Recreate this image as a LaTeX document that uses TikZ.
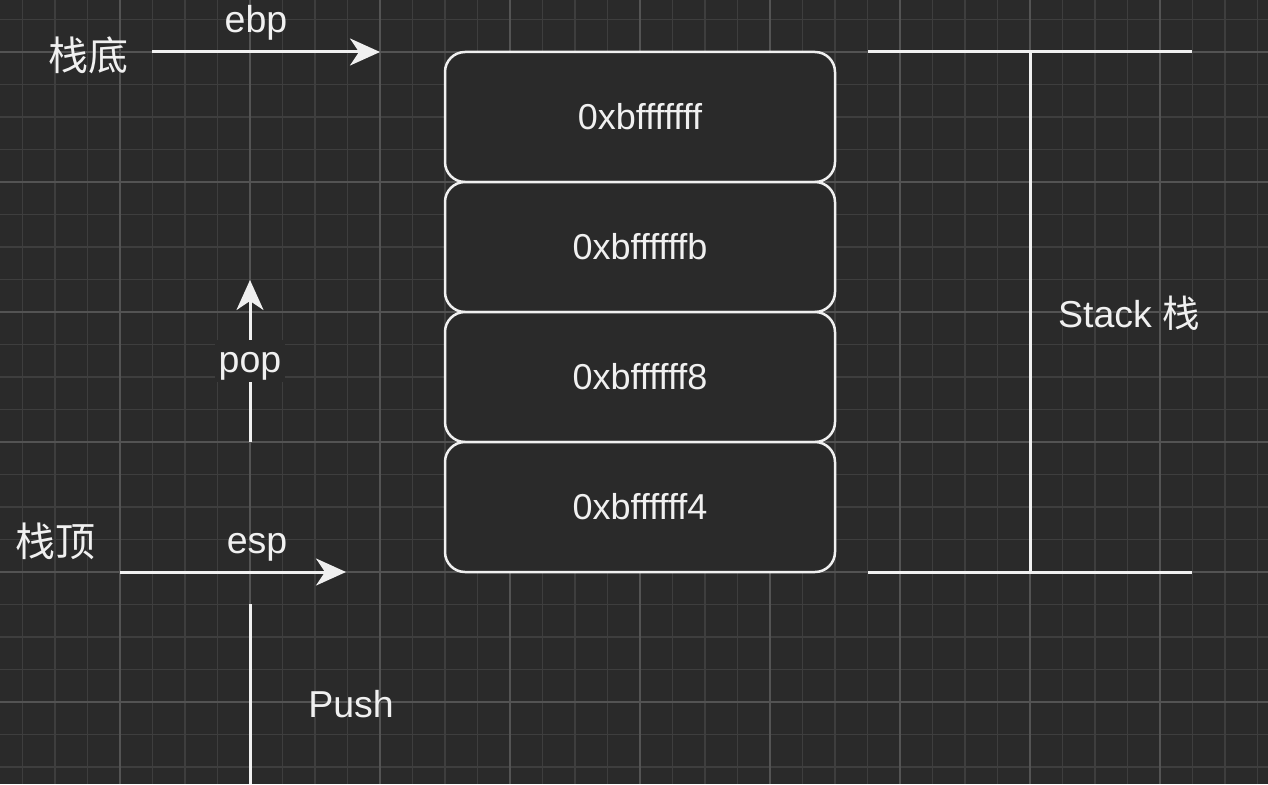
\documentclass[tikz,border=0pt]{standalone}
\usepackage{fontspec}
\setmainfont{Liberation Sans}
\newfontfamily\cjk{Noto Sans CJK SC}
\usetikzlibrary{arrows.meta}
\definecolor{bg}{HTML}{2A2A2A}
\definecolor{gridminor}{HTML}{3E3E3E}
\definecolor{gridmajor}{HTML}{535353}
\definecolor{ink}{HTML}{F0F0F0}
\tikzset{
  lbl/.style={text=ink, font=\fontsize{37.5}{40}\selectfont, inner sep=0pt},
  cjklbl/.style={text=ink, font=\fontsize{40}{42}\selectfont\cjk, inner sep=0pt},
  cell/.style={draw=ink, line width=2.5pt, fill=bg, rounded corners=20pt,
    minimum width=390pt, minimum height=130pt, inner sep=0pt, text=ink,
    font=\fontsize{36}{40}\selectfont},
  arr/.style={draw=ink, line width=3pt, -{Stealth[length=30pt,width=27pt,inset=9pt]}},
  plain/.style={draw=ink, line width=3pt},
}
\begin{document}
\begin{tikzpicture}[x=1pt,y=-1pt]
\useasboundingbox (0,0) rectangle (1268,784);
\fill[bg] (0,0) rectangle (1268,784);
% grid
\foreach \i in {0,...,39} {
  \pgfmathsetmacro\gx{22.5+32.5*\i}
  \draw[gridminor, line width=1.5pt] (\gx,0) -- (\gx,784);
}
\foreach \i in {0,...,24} {
  \pgfmathsetmacro\gy{19.5+32.5*\i}
  \draw[gridminor, line width=1.5pt] (0,\gy) -- (1268,\gy);
}
\foreach \gx in {120,250,...,1160} {
  \draw[gridmajor, line width=1.5pt] (\gx,0) -- (\gx,784);
}
\foreach \gy in {52,182,...,702} {
  \draw[gridmajor, line width=1.5pt] (0,\gy) -- (1268,\gy);
}
% stack cells
\node[cell] (b1) at (640,117) {0xbfffffff};
\node[cell] (b2) at (640,247) {0xbffffffb};
\node[cell] (b3) at (640,377) {0xbffffff8};
\node[cell] (b4) at (640,507) {0xbffffff4};
% bracket
\coordinate (tl) at (868,52);
\coordinate (tr) at (1192,52);
\coordinate (tm) at (1030,52);
\coordinate (bl) at (868,572);
\coordinate (br) at (1192,572);
\coordinate (bm) at (1030,572);
\draw[plain] (tl) -- (tr);
\draw[plain] (bl) -- (br);
\draw[plain] (tm) -- (bm);
\node[lbl, anchor=base] (stack) at (1129,327) {Stack {\cjk 栈}};
% ebp
\node[cjklbl] (bottom) at (88,55) {栈底};
\coordinate (ebpS) at (152,52);
\coordinate (ebpE) at (380,52);
\draw[arr] (ebpS) -- (ebpE);
\node[lbl, anchor=base] (ebp) at (256,33) {ebp};
% esp
\node[cjklbl] (top) at (55,541) {栈顶};
\coordinate (espS) at (120,572);
\coordinate (espE) at (346,572);
\draw[arr] (espS) -- (espE);
\node[lbl, anchor=base] (esp) at (257,553) {esp};
% pop
\coordinate (popS) at (250,442);
\coordinate (popE) at (250,280);
\draw[arr] (popS) -- (popE);
\node[lbl, fill=bg, anchor=base, text height=32pt, text depth=10pt, inner xsep=4pt] (pop) at (250,372) {pop};
% push
\coordinate (pushS) at (250,604);
\coordinate (pushE) at (250,784);
\draw[plain] (pushS) -- (pushE);
\node[lbl, anchor=base] (push) at (351,717) {Push};
\end{tikzpicture}
\end{document}
